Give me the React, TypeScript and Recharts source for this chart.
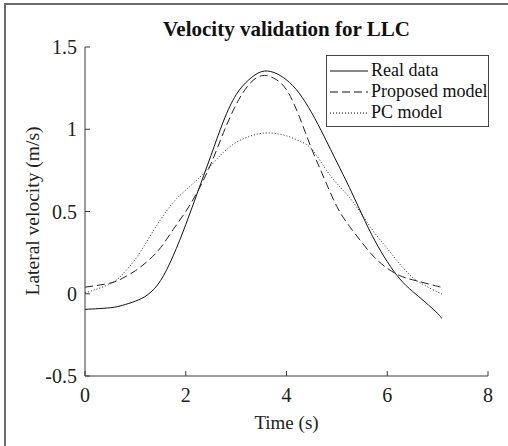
import React from 'react';
import { LineChart, Line, XAxis, YAxis } from 'recharts';

const timeValues = [0, 0.5, 0.75, 1, 1.25, 1.5, 1.75, 2, 2.25, 2.5, 2.75, 3, 3.25, 3.5, 3.75, 4, 4.25, 4.5, 4.75, 5, 5.25, 5.5, 5.75, 6, 6.25, 6.5, 6.75, 7, 7.08];
const realData = [-0.095, -0.085, -0.07, -0.045, -0.005, 0.08, 0.23, 0.42, 0.63, 0.84, 1.05, 1.21, 1.3, 1.35, 1.345, 1.3, 1.22, 1.1, 0.955, 0.8, 0.645, 0.48, 0.325, 0.195, 0.09, 0.015, -0.05, -0.12, -0.15];
const proposedModel = [0.04, 0.065, 0.095, 0.14, 0.2, 0.28, 0.39, 0.5, 0.63, 0.79, 0.98, 1.15, 1.27, 1.325, 1.31, 1.24, 1.08, 0.88, 0.7, 0.53, 0.41, 0.31, 0.22, 0.155, 0.11, 0.085, 0.065, 0.045, 0.04];
const pcModel = [0.005, 0.06, 0.12, 0.21, 0.33, 0.45, 0.555, 0.63, 0.7, 0.78, 0.86, 0.92, 0.955, 0.975, 0.975, 0.96, 0.93, 0.88, 0.77, 0.67, 0.585, 0.48, 0.37, 0.275, 0.18, 0.1, 0.05, 0.01, 0.0];

const xTicks = [0, 2, 4, 6, 8];
const yTicks = [-0.5, 0, 0.5, 1, 1.5];

const seriesNames = ['Real data', 'Proposed model', 'PC model'];
const titleText = 'Velocity validation for LLC';
const xLabel = 'Time (s)';
const yLabel = 'Lateral velocity (m/s)';

const data = timeValues.map((t, i) => ({ t, real: realData[i], proposed: proposedModel[i], pc: pcModel[i] }));

const FONT = '"Liberation Serif", "Times New Roman", serif';
const AXIS_COLOR = '#3a3a3a';
const tickStyle = { fill: '#222', fontFamily: FONT, fontSize: 20 };

const legendItems = [
  { name: seriesNames[0], dash: undefined },
  { name: seriesNames[1], dash: '8 4' },
  { name: seriesNames[2], dash: '1 2' },
];

const LegendBox = () => (
  <div style={{ position: 'absolute', left: 326, top: 55, border: '1px solid #444', background: '#fff', width: 161, padding: '4px 0 3px 0' }}>
    {legendItems.map((it) => (
      <div key={it.name} style={{ display: 'flex', alignItems: 'center', height: 21 }}>
        <svg width={44} height={21} style={{ display: 'block' }}>
          <line x1={3} x2={41} y1={11} y2={11} stroke="#111" strokeWidth={1} strokeDasharray={it.dash} />
        </svg>
        <span style={{ fontFamily: FONT, fontSize: 18, color: '#111', lineHeight: '21px', whiteSpace: 'nowrap' }}>{it.name}</span>
      </div>
    ))}
  </div>
);

export default function App() {
  return (
    <div style={{ position: 'absolute', left: 0, top: 0, width: 508, height: 446, background: '#fff', overflow: 'hidden' }}>
      <div style={{ position: 'absolute', left: 4, top: 3, width: 510, height: 450, borderLeft: '2px solid #6a6a6a', borderTop: '2px solid #6a6a6a' }} />
      <div style={{ position: 'absolute', left: 85, width: 403, top: 17, textAlign: 'center', fontFamily: FONT, fontWeight: 'bold', fontSize: 21, color: '#111', lineHeight: '24px' }}>{titleText}</div>
      <div style={{ position: 'absolute', left: 85, width: 403, top: 411, textAlign: 'center', fontFamily: FONT, fontSize: 19, color: '#222', lineHeight: '24px' }}>{xLabel}</div>
      <div style={{ position: 'absolute', left: 33, top: 211, width: 0, height: 0 }}>
        <div style={{ position: 'absolute', left: 0, top: 0, transform: 'translate(-50%, -50%) rotate(-90deg)', fontFamily: FONT, fontSize: 19.5, color: '#222', whiteSpace: 'nowrap', lineHeight: '24px' }}>{yLabel}</div>
      </div>
      <div style={{ position: 'absolute', left: 0, top: 0 }}>
        <LineChart width={508} height={446} data={data} margin={{ top: 47, right: 20, bottom: 30, left: 0 }}>
          <XAxis dataKey="t" type="number" domain={[0, 8]} ticks={xTicks} allowDataOverflow
            stroke={AXIS_COLOR} tickSize={-5} tickMargin={17} height={40} tick={tickStyle} interval={0} />
          <XAxis xAxisId="top" orientation="top" dataKey="t" type="number" domain={[0, 8]} ticks={xTicks}
            stroke={AXIS_COLOR} tickSize={-5} tickMargin={0} height={0} tickFormatter={() => ''} />
          <YAxis type="number" domain={[-0.5, 1.5]} ticks={yTicks} allowDataOverflow width={85}
            stroke={AXIS_COLOR} tickSize={-5} tickMargin={13} tick={tickStyle} interval={0} />
          <YAxis yAxisId="right" orientation="right" type="number" domain={[-0.5, 1.5]} ticks={yTicks} width={0}
            stroke={AXIS_COLOR} tickSize={-5} tickMargin={0} tickFormatter={() => ''} />
          <Line type="natural" dataKey="real" name={seriesNames[0]} stroke="#111" strokeWidth={1} dot={false} isAnimationActive={false} />
          <Line type="natural" dataKey="proposed" name={seriesNames[1]} stroke="#222" strokeWidth={1} strokeDasharray="8 4" dot={false} isAnimationActive={false} />
          <Line type="natural" dataKey="pc" name={seriesNames[2]} stroke="#222" strokeWidth={1} strokeDasharray="1 2" dot={false} isAnimationActive={false} />
        </LineChart>
      </div>
      <LegendBox />
    </div>
  );
}
